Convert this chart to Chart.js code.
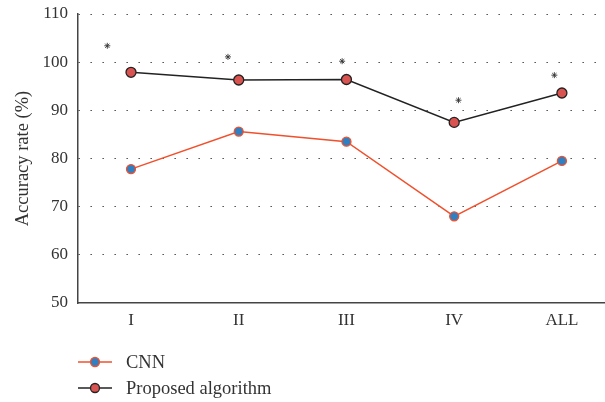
<!DOCTYPE html>
<html>
<head>
<meta charset="utf-8">
<script src="https://cdn.jsdelivr.net/npm/chart.js@4/dist/chart.umd.min.js"></script>
<style>
  html, body { margin: 0; padding: 0; background: #fff; }
  #wrap { width: 605px; height: 402px; position: relative; }
</style>
</head>
<body>
<div id="wrap"><canvas id="accChart"></canvas></div>
<script>
'use strict';

// Data
const categories = ['I', 'II', 'III', 'IV', 'ALL'];
const cnnValues = [77.8, 85.6, 83.5, 68.0, 79.5];
const proposedValues = [97.9, 96.3, 96.4, 87.5, 93.6];
// significance stars (x in category units, y in %)
const starX = [-0.22, 0.9, 1.96, 3.04, 3.93];
const starY = [103.4, 101.1, 100.2, 92.1, 97.3];
const yTicks = [50, 60, 70, 80, 90, 100, 110];

const FONT = '"Liberation Serif", "DejaVu Serif", serif';
const textColor = '#333';
const cnnLine = '#f0502c';
const cnnFill = '#2f80c3';
const propLine = '#222';
const propFill = '#d95350';

const toXY = (vals) => vals.map((v, i) => ({ x: i, y: v }));

// legend drawn below the plot, one entry per row with a line+marker sample
const rowLegend = {
  id: 'rowLegend',
  afterDraw(chart) {
    const ctx = chart.ctx;
    const rows = [
      { label: 'CNN', line: cnnLine, fill: cnnFill, border: cnnLine, y: 362 },
      { label: 'Proposed algorithm', line: propLine, fill: propFill, border: propLine, y: 388 }
    ];
    ctx.save();
    rows.forEach(function (r) {
      ctx.strokeStyle = r.line;
      ctx.lineWidth = 1.5;
      ctx.beginPath();
      ctx.moveTo(78, r.y);
      ctx.lineTo(112, r.y);
      ctx.stroke();
      ctx.beginPath();
      ctx.arc(95, r.y, 4.5, 0, Math.PI * 2);
      ctx.fillStyle = r.fill;
      ctx.fill();
      ctx.strokeStyle = r.border;
      ctx.lineWidth = 1.3;
      ctx.stroke();
      ctx.fillStyle = textColor;
      ctx.font = '18.5px ' + FONT;
      ctx.textBaseline = 'middle';
      ctx.fillText(r.label, 126, r.y + 1);
    });
    ctx.restore();
  }
};

document.addEventListener('DOMContentLoaded', function () {
  const ctx = document.getElementById('accChart').getContext('2d');

  new Chart(ctx, {
    type: 'line',
    data: {
      datasets: [
        {
          label: 'CNN',
          data: toXY(cnnValues),
          borderColor: cnnLine,
          borderWidth: 1.5,
          pointBackgroundColor: cnnFill,
          pointBorderColor: cnnLine,
          pointBorderWidth: 1.3,
          pointRadius: 4.5,
          tension: 0
        },
        {
          label: 'Proposed algorithm',
          data: toXY(proposedValues),
          borderColor: propLine,
          borderWidth: 1.5,
          pointBackgroundColor: propFill,
          pointBorderColor: propLine,
          pointBorderWidth: 1.3,
          pointRadius: 5,
          tension: 0
        },
        {
          label: 'significance',
          data: starX.map((x, i) => ({ x: x, y: starY[i] })),
          showLine: false,
          pointStyle: 'star',
          pointRadius: 3,
          pointBorderColor: '#333',
          pointBorderWidth: 0.9,
          pointBackgroundColor: '#333'
        }
      ]
    },
    options: {
      responsive: true,
      maintainAspectRatio: false,
      animation: false,
      layout: { autoPadding: false, padding: { top: 14, right: 0, left: 0, bottom: 0 } },
      plugins: {
        legend: { display: false },
        tooltip: { enabled: false }
      },
      scales: {
        x: {
          type: 'linear',
          min: -0.492,
          max: 4.4,
          afterBuildTicks: function (axis) {
            axis.ticks = categories.map((c, i) => ({ value: i }));
          },
          afterFit: function (axis) {
            axis.height = 99;
            axis.paddingLeft = 0;
            axis.paddingRight = 0;
          },
          ticks: {
            color: textColor,
            padding: 7,
            maxRotation: 0,
            font: { size: 17, family: FONT },
            callback: function (v) {
              return categories[v];
            }
          },
          grid: { display: false, drawTicks: false },
          border: { color: '#444', width: 1.5 }
        },
        y: {
          min: 50,
          max: 110,
          afterBuildTicks: function (axis) {
            axis.ticks = yTicks.map((v) => ({ value: v }));
          },
          afterFit: function (axis) {
            axis.width = 78;
            axis.paddingTop = 0;
            axis.paddingBottom = 0;
          },
          title: {
            display: true,
            text: 'Accuracy rate (%)',
            color: textColor,
            font: { size: 18.5, family: FONT },
            padding: { top: 12, bottom: 0 }
          },
          ticks: {
            color: textColor,
            padding: 10,
            font: { size: 17, family: FONT }
          },
          grid: {
            color: function (c) {
              return c.tick.value === 50 ? 'rgba(0,0,0,0)' : '#333';
            },
            lineWidth: 1,
            drawTicks: false
          },
          border: { color: '#444', width: 1.5, dash: [1.3, 10.7] }
        }
      }
    },
    plugins: [rowLegend]
  });
});
</script>
</body>
</html>
